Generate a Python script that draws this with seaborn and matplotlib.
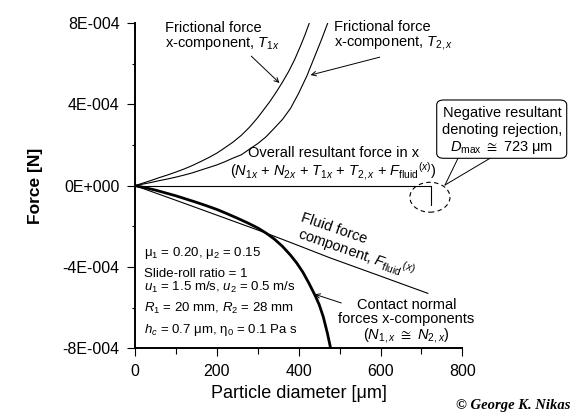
import numpy as np
import pandas as pd
import matplotlib
matplotlib.use("Agg")
import matplotlib.pyplot as plt
import seaborn as sns
from matplotlib.patches import FancyBboxPatch, Ellipse
from matplotlib.lines import Line2D

# ---------------- data (force values in units of 1E-004 N) ----------------
t1x_d = [0, 20, 40, 60, 80, 100, 120, 140, 160, 180, 200, 220, 240, 260, 280, 300,
         315, 330, 345, 360, 375, 390, 405, 415, 426]
t1x_f = [0, 0.13, 0.26, 0.40, 0.53, 0.67, 0.82, 0.99, 1.18, 1.38, 1.60, 1.87, 2.15,
         2.48, 2.88, 3.35, 3.75, 4.15, 4.60, 5.08, 5.60, 6.20, 6.90, 7.40, 8.00]

t2x_d = [0, 20, 40, 60, 80, 100, 120, 140, 160, 180, 200, 220, 240, 260, 280, 300,
         320, 340, 360, 380, 400, 420, 440, 455, 471]
t2x_f = [0, 0.08, 0.16, 0.25, 0.33, 0.42, 0.52, 0.63, 0.76, 0.89, 1.02, 1.18, 1.36,
         1.52, 1.80, 2.07, 2.40, 2.82, 3.25, 3.80, 4.55, 5.40, 6.40, 7.15, 8.00]

normal_d = [0, 25, 50, 75, 100, 125, 150, 175, 200, 225, 250, 275, 300, 320, 340, 360,
            380, 395, 410, 425, 440, 450, 460, 470, 478]
normal_f = [0, -0.10, -0.22, -0.36, -0.50, -0.66, -0.82, -0.99, -1.17, -1.38, -1.60,
            -1.83, -2.08, -2.33, -2.62, -2.98, -3.42, -3.80, -4.25, -4.80, -5.40, -5.85,
            -6.45, -7.25, -8.00]

fluid_d = [0, 100, 200, 316, 400, 475, 600, 716]
fluid_f = [0, -0.72, -1.45, -2.30, -2.95, -3.54, -4.45, -5.30]

result_d = [0, 723, 723]
result_f = [0, 0, -0.95]

unit = 1e-4
yticks = [-8, -4, 0, 4, 8]
ytick_labels = ["-8E-004", "-4E-004", "0E+000", "4E-004", "8E-004"]
yminor = [-6, -2, 2, 6]
xticks = [0, 200, 400, 600, 800]
xtick_labels = ["0", "200", "400", "600", "800"]
xminor = [100, 300, 500, 700]

params_lines = [
    "μ$_1$ = 0.20, μ$_2$ = 0.15",
    "Slide-roll ratio = 1",
    "$u_1$ = 1.5 m/s, $u_2$ = 0.5 m/s",
    "$R_1$ = 20 mm, $R_2$ = 28 mm",
    "$h_c$ = 0.7 μm, η$_0$ = 0.1 Pa s",
]

# ---------------- style ----------------
sns.set_style("ticks")
plt.rcParams["font.family"] = ["Liberation Sans", "DejaVu Sans"]
plt.rcParams["mathtext.fontset"] = "custom"
plt.rcParams["mathtext.rm"] = "Liberation Sans"
plt.rcParams["mathtext.it"] = "Liberation Sans:italic"
plt.rcParams["mathtext.bf"] = "Liberation Sans:bold"
plt.rcParams["mathtext.fallback"] = "stixsans"
plt.rcParams["text.color"] = "black"
plt.rcParams["axes.labelcolor"] = "black"
plt.rcParams["xtick.color"] = "black"
plt.rcParams["ytick.color"] = "black"
plt.rcParams["axes.edgecolor"] = "black"

fig = plt.figure(figsize=(5.84, 4.18), dpi=100)
ax = fig.add_axes([0.2312, 0.1667, 0.5606, 0.7783])


def frame(d, f, name):
    return pd.DataFrame({"D": d, "F": np.asarray(f) * unit, "s": name})


thin = 0.8
for d, f, nm in [(t1x_d, t1x_f, "T1x"), (t2x_d, t2x_f, "T2x"),
                 (fluid_d, fluid_f, "fluid"), (result_d, result_f, "res")]:
    sns.lineplot(data=frame(d, f, nm), x="D", y="F", ax=ax, color="k", lw=thin,
                 sort=False, estimator=None, solid_joinstyle="round")
sns.lineplot(data=frame(normal_d, normal_f, "N"), x="D", y="F", ax=ax, color="k",
             lw=2.0, sort=False, estimator=None, solid_joinstyle="round")

ax.set_xlim(0, 800)
ax.set_ylim(-8 * unit, 8 * unit)
sns.despine(ax=ax)
for sp in ["left", "bottom"]:
    ax.spines[sp].set_linewidth(1.4)

ax.set_xticks(xticks)
ax.set_xticklabels(xtick_labels)
ax.set_xticks(xminor, minor=True)
ax.set_yticks([v * unit for v in yticks])
ax.set_yticklabels(ytick_labels)
ax.set_yticks([v * unit for v in yminor], minor=True)
ax.tick_params(axis="both", which="major", length=6, width=0.8, labelsize=11.5)
ax.tick_params(axis="x", which="major", pad=5)
ax.tick_params(axis="y", which="major", pad=5)
ax.tick_params(axis="x", which="minor", length=4, width=0.8)
ax.tick_params(axis="y", which="minor", length=2.5, width=0.8)

ax.set_xlabel("Particle diameter [μm]", fontsize=13)
ax.set_ylabel("Force [N]", fontsize=12.5, fontweight="bold")
ax.xaxis.set_label_coords(0.5, -0.14)
ax.xaxis.label.set_verticalalignment("center")
ax.yaxis.set_label_coords(-0.305, 0.5)
ax.yaxis.label.set_verticalalignment("center")

fs = 10.5
ls = 1.0
arrowprops = dict(arrowstyle="->", color="k", lw=0.7, shrinkA=0, shrinkB=0,
                  mutation_scale=8)

# T1x label
ax.text(73, 7.35 * unit, "Frictional force\nx-component, $T_{1x}$", fontsize=fs,
        ha="left", va="center", linespacing=ls)
ax.annotate("", xy=(353, 5.05 * unit), xytext=(284, 6.37 * unit), arrowprops=arrowprops)

# T2x label
ax.text(485, 7.35 * unit, "Frictional force\nx-component, $T_{2,x}$", fontsize=fs,
        ha="left", va="center", linespacing=ls, clip_on=False)
ax.annotate("", xy=(429, 5.44 * unit), xytext=(598, 6.32 * unit), arrowprops=arrowprops,
            annotation_clip=False)

# Overall resultant label
ax.text(485, 1.08 * unit,
        "Overall resultant force in x\n($N_{1x}$ + $N_{2x}$ + $T_{1x}$ + $T_{2,x}$ + $F_{\\mathrm{fluid}}$$^{(x)}$)",
        fontsize=fs, ha="center", va="center", multialignment="center", linespacing=ls)

# Fluid label (rotated)
ax.text(404, -1.75 * unit, "Fluid force", fontsize=fs, rotation=-19,
        rotation_mode="anchor", ha="left", va="baseline")
ax.text(394, -2.55 * unit, "component, $F_{\\mathrm{fluid}}$$^{(x)}$", fontsize=fs,
        rotation=-19, rotation_mode="anchor", ha="left", va="baseline")

# Contact normal label
ax.text(663, -6.67 * unit,
        "Contact normal\nforces x-components\n($N_{1,x}\\ \\cong\\ N_{2,x}$)",
        fontsize=fs, ha="center", va="center", multialignment="center",
        linespacing=ls, clip_on=False)
ax.annotate("", xy=(439, -5.34 * unit), xytext=(504, -5.77 * unit), arrowprops=arrowprops)

# parameters text
param_y = [-3.32, -4.36, -5.01, -6.05, -7.08]
for txt, yy in zip(params_lines, param_y):
    ax.text(22, yy * unit, txt, fontsize=9.5, ha="left", va="center")

# dashed ellipse around the rejection point
ell = Ellipse((720.6, -0.57 * unit), width=98, height=1.47 * unit, fill=False,
              ec="k", lw=0.8, ls=(0, (4, 3)), clip_on=False)
ax.add_patch(ell)

# callout box (figure coordinates)
box = FancyBboxPatch((0.7478, 0.6213), 0.2226, 0.1395,
                     boxstyle="round,pad=0,rounding_size=0.012",
                     transform=fig.transFigure, fc="white", ec="k", lw=0.8)
fig.patches.append(box)
fig.lines.append(Line2D([0.7842, 0.762], [0.6213, 0.5574], transform=fig.transFigure,
                        color="k", lw=0.7))
fig.lines.append(Line2D([0.839, 0.762], [0.6213, 0.5574], transform=fig.transFigure,
                        color="k", lw=0.7))
fig.text(0.8596, 0.7304, "Negative resultant", fontsize=fs, ha="center", va="center")
fig.text(0.8596, 0.689, "denoting rejection,", fontsize=fs, ha="center", va="center")
fig.text(0.8596, 0.6483, "$D_{\\mathrm{max}}\\ \\cong$ 723 μm", fontsize=fs,
         ha="center", va="center")

# copyright
fig.text(0.878, 0.031, "© George K. Nikas", fontsize=10.5, ha="center", va="center",
         family="Liberation Serif", style="italic", weight="bold")

fig.savefig("out.png", dpi=100)
